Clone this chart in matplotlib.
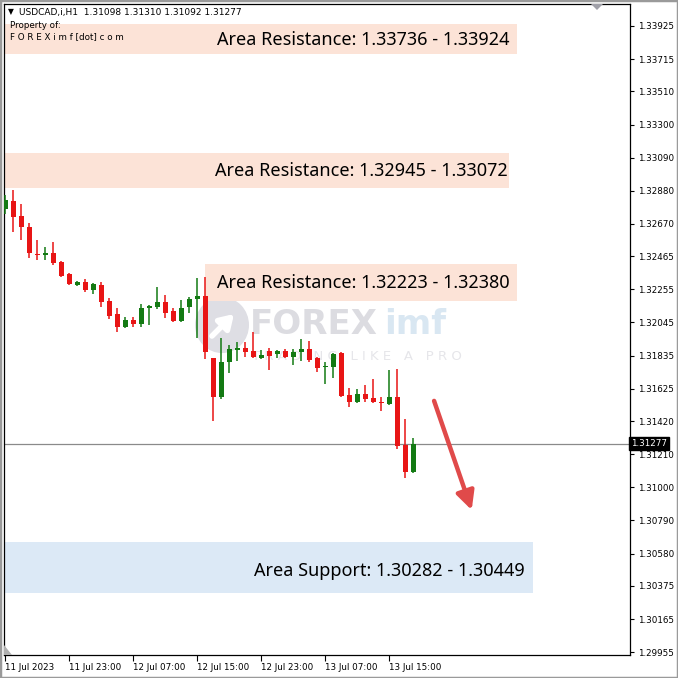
import matplotlib
matplotlib.use("Agg")
import matplotlib.pyplot as plt
from matplotlib.patches import Rectangle, Circle, Polygon
import numpy as np

# ---------------- data ----------------
opens = [1.32765, 1.32816, 1.32720, 1.32651, 1.32480, 1.32473, 1.32486, 1.32429, 1.32353, 1.32283,
         1.32302, 1.32251, 1.32283, 1.32182, 1.32099, 1.32017, 1.32061, 1.32036, 1.32137, 1.32144,
         1.32175, 1.32118, 1.32055, 1.32144, 1.32194, 1.32213, 1.31820, 1.31573, 1.31795, 1.31871,
         1.31884, 1.31865, 1.31820, 1.31865, 1.31846, 1.31865, 1.31826, 1.31858, 1.31877, 1.31820,
         1.31763, 1.31763, 1.31852, 1.31586, 1.31541, 1.31592, 1.31567, 1.31541, 1.31529, 1.31573,
         1.31269, 1.31098]
highs = [1.32854, 1.32885, 1.32797, 1.32676, 1.32568, 1.32524, 1.32556, 1.32435, 1.32359, 1.32308,
         1.32321, 1.32296, 1.32302, 1.32201, 1.32137, 1.32080, 1.32080, 1.32163, 1.32156, 1.32270,
         1.32220, 1.32137, 1.32188, 1.32207, 1.32327, 1.32334, 1.31820, 1.31947, 1.31903, 1.31922,
         1.31922, 1.31985, 1.31871, 1.31884, 1.31871, 1.31877, 1.31877, 1.31941, 1.31928, 1.31826,
         1.31795, 1.31852, 1.31858, 1.31630, 1.31624, 1.31649, 1.31687, 1.31573, 1.31744, 1.31750,
         1.31433, 1.31310]
lows = [1.32733, 1.32619, 1.32568, 1.32454, 1.32441, 1.32441, 1.32410, 1.32334, 1.32283, 1.32277,
        1.32239, 1.32226, 1.32144, 1.32067, 1.31985, 1.32010, 1.32017, 1.32017, 1.32029, 1.32131,
        1.32074, 1.32048, 1.32048, 1.32105, 1.31947, 1.31814, 1.31421, 1.31560, 1.31725, 1.31801,
        1.31826, 1.31820, 1.31814, 1.31744, 1.31820, 1.31820, 1.31776, 1.31801, 1.31795, 1.31731,
        1.31655, 1.31693, 1.31573, 1.31510, 1.31535, 1.31541, 1.31535, 1.31484, 1.31522, 1.31243,
        1.31059, 1.31092]
closes = [1.32822, 1.32714, 1.32651, 1.32486, 1.32473, 1.32486, 1.32422, 1.32340, 1.32289, 1.32302,
          1.32251, 1.32289, 1.32175, 1.32086, 1.32017, 1.32061, 1.32036, 1.32137, 1.32150, 1.32175,
          1.32105, 1.32055, 1.32137, 1.32194, 1.32213, 1.31858, 1.31573, 1.31795, 1.31877, 1.31884,
          1.31858, 1.31826, 1.31839, 1.31833, 1.31865, 1.31826, 1.31858, 1.31877, 1.31807, 1.31757,
          1.31769, 1.31846, 1.31579, 1.31541, 1.31592, 1.31560, 1.31541, 1.31535, 1.31573, 1.31262,
          1.31097, 1.31277]

current_price = 1.31277
y_ticks = [1.33925, 1.33715, 1.33510, 1.33300, 1.33090, 1.32880, 1.32670, 1.32465, 1.32255, 1.32045,
           1.31835, 1.31625, 1.31420, 1.31210, 1.31000, 1.30790, 1.30580, 1.30375, 1.30165, 1.29955]
x_tick_idx = [0, 8, 16, 24, 32, 40, 48]
x_tick_labels = ["11 Jul 2023", "11 Jul 23:00", "12 Jul 07:00", "12 Jul 15:00",
                 "12 Jul 23:00", "13 Jul 07:00", "13 Jul 15:00"]
area_labels = ["Area Resistance: 1.33736 - 1.33924",
               "Area Resistance: 1.32945 - 1.33072",
               "Area Resistance: 1.32223 - 1.32380",
               "Area Support: 1.30282 - 1.30449"]
header = "USDCAD,i,H1  1.31098 1.31310 1.31092 1.31277"

# ---------------- figure ----------------
W = H = 678
fig = plt.figure(figsize=(6.78, 6.78), dpi=100)
fig.patch.set_facecolor("white")
ax = fig.add_axes([4 / W, 23 / H, 626 / W, 651 / H])
ax.set_facecolor("white")

RED = "#e81515"
GREEN = "#137a13"

x = np.arange(len(opens))
o = np.array(opens); c = np.array(closes); hi = np.array(highs); lo = np.array(lows)
up = c >= o
colors = np.where(up, GREEN, RED)

def ax_xy(px, py):
    return ((px - 4) / 626, (655 - py) / 651)

# watermark (behind candles)
wm_kw = dict(transform=ax.transAxes, zorder=0.5)
ax.add_patch(Circle(ax_xy(222, 325), 27 / 626, transform=ax.transAxes,
                    facecolor="#dedee4", edgecolor="none", zorder=0.5))
ax.annotate("", xy=ax_xy(236, 312), xytext=ax_xy(210, 338), xycoords="axes fraction",
            arrowprops=dict(arrowstyle="-|>,head_width=0.5,head_length=0.8", color="white", lw=4),
            zorder=0.6)
ax.text(*ax_xy(250, 325), "FOREX", fontsize=24.5, fontweight="bold",
        color="#dcdce1", ha="left", va="center", family="DejaVu Sans", **wm_kw)
ax.text(*ax_xy(446, 325), "imf", fontsize=24.5, fontweight="bold",
        color="#d9e7f2", ha="right", va="center", family="DejaVu Sans", **wm_kw)
ax.text(*ax_xy(252, 357), "T R A D I N G   L I K E   A   P R O", fontsize=9.5,
        color="#e6e6ea", ha="left", va="center", family="DejaVu Sans", **wm_kw)

# area boxes (layout in pixel-derived axes fraction)
boxes = [
    ((5, 24, 517, 54), (510, 40), "#fce3d7"),
    ((5, 153, 509, 188), (508, 171), "#fce3d7"),
    ((205, 264, 517, 301), (510, 283), "#fce3d7"),
    ((5, 542, 533, 593), (525, 571), "#dce9f6"),
]
for (bx0, by0, bx1, by1), _, col in boxes:
    ax.add_patch(Rectangle(ax_xy(bx0, by1), (bx1 - bx0) / 626, (by1 - by0) / 651,
                           transform=ax.transAxes, facecolor=col, edgecolor="none", zorder=1))
for (_, (tx, ty), _), lab in zip(boxes, area_labels):
    ax.text(*ax_xy(tx, ty), lab, transform=ax.transAxes, ha="right", va="center",
            fontsize=13, color="black", family="Noto Sans", zorder=6)

# current price line
ax.axhline(current_price, color="#8a8a8a", lw=0.9, zorder=2)

# candles
ax.vlines(x, lo, hi, colors=colors, lw=1.1, zorder=3)
body_bottom = np.minimum(o, c)
body_h = np.maximum(np.abs(c - o), 0.00007)
ax.bar(x, body_h, bottom=body_bottom, width=0.62, color=colors, edgecolor="none", zorder=4)

# arrow
ax.annotate("", xy=(58.3, 1.30856), xytext=(53.6, 1.31548),
            arrowprops=dict(arrowstyle="-|>,head_width=0.55,head_length=1.1", color="#e04a4a",
                            lw=3.2, shrinkA=0, shrinkB=0), zorder=5)

# axes limits & ticks
ax.set_xlim(-0.16, 78.09)
ax.set_ylim(1.29937, 1.34064)
ax.yaxis.tick_right()
ax.set_yticks(y_ticks)
ax.set_yticklabels([f"{t:.5f}" for t in y_ticks])
ax.set_xticks(x_tick_idx)
ax.set_xticklabels(x_tick_labels, ha="left")
ax.tick_params(axis="y", direction="out", length=3, width=0.8, labelsize=6.3, pad=3, colors="black")
ax.tick_params(axis="x", direction="out", length=4, width=0.8, labelsize=6.3, pad=2, colors="black")
for s in ax.spines.values():
    s.set_color("black"); s.set_linewidth(0.9)

# current price label
ax.text(1.0015, current_price, "1.31277", transform=ax.get_yaxis_transform(), ha="left", va="center",
        fontsize=6.3, color="white", zorder=10, clip_on=False,
        bbox=dict(boxstyle="square,pad=0.25", facecolor="black", edgecolor="black"))

# header texts
ax.text(*ax_xy(8, 12), "\u25bc", transform=ax.transAxes, fontsize=5.5,
        ha="left", va="center", zorder=7)
ax.text(*ax_xy(19, 12), header, transform=ax.transAxes, fontsize=6.5,
        ha="left", va="center", zorder=7, family="DejaVu Sans")
ax.text(*ax_xy(10, 25), "Property of:", transform=ax.transAxes, fontsize=6.3,
        ha="left", va="center", zorder=7)
ax.text(*ax_xy(10, 37), "F O R E X i m f [dot] c o m", transform=ax.transAxes,
        fontsize=6.3, ha="left", va="center", zorder=7)

# small MT4 markers
ax.add_patch(Polygon([[(591 - 4) / 626, 1.0], [(603 - 4) / 626, 1.0], list(ax_xy(597, 10))],
                     closed=True, transform=ax.transAxes, facecolor="#a0a0a8", edgecolor="none",
                     zorder=7, clip_on=False))
ax.add_patch(Polygon([[0.0, 0.0], [(12 - 4) / 626, 0.0], [0.0, 10 / 651]], closed=True,
                     transform=ax.transAxes, facecolor="#b0b0b0", edgecolor="none", zorder=7))

# figure frame
fig.patches.append(Rectangle((0, 0), 1, 1, transform=fig.transFigure, fill=False,
                             edgecolor="#9a9a9a", lw=2.5))

fig.savefig("out.png", dpi=100)
